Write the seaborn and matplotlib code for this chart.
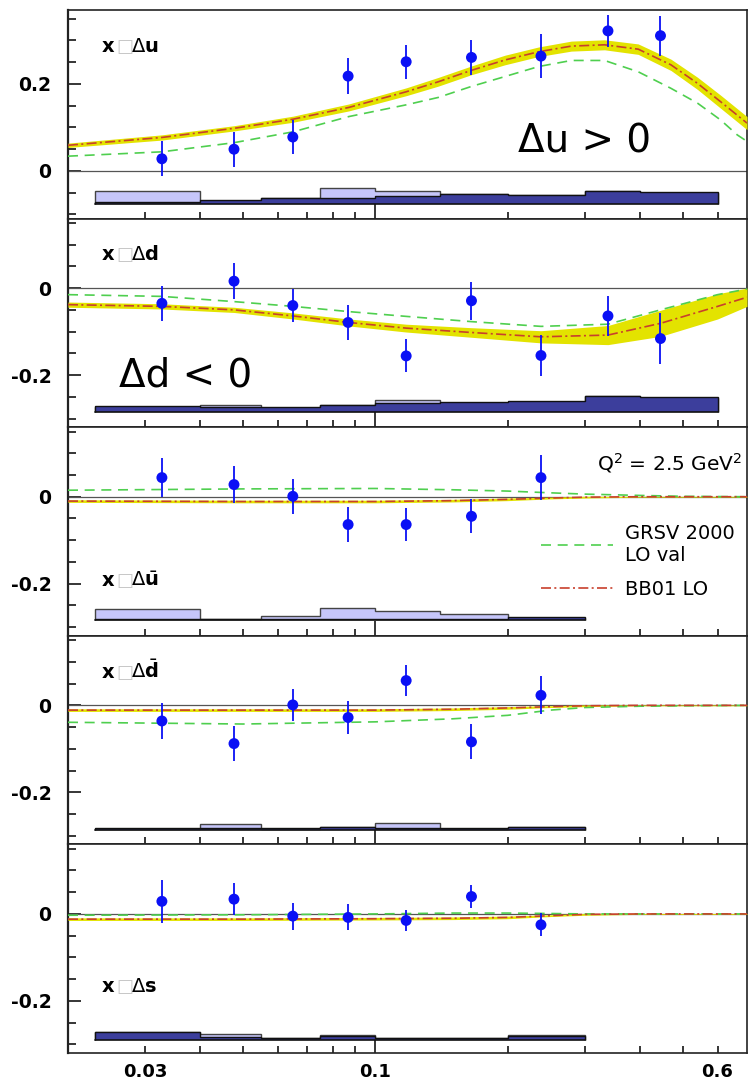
import numpy as np
import pandas as pd
import matplotlib
matplotlib.use("Agg")
import matplotlib.pyplot as plt
import seaborn as sns
from matplotlib.ticker import MultipleLocator, FixedLocator, NullLocator, FuncFormatter

# ---------------- data ----------------
x_points = [0.0327, 0.0477, 0.0649, 0.0867, 0.1175, 0.1654, 0.238, 0.338, 0.445]

du_y = [0.028, 0.050, 0.078, 0.218, 0.251, 0.261, 0.264, 0.322, 0.311]
du_err = [0.040, 0.040, 0.040, 0.041, 0.039, 0.041, 0.050, 0.036, 0.046]
dd_y = [-0.035, 0.016, -0.040, -0.079, -0.156, -0.029, -0.155, -0.064, -0.116]
dd_err = [0.040, 0.041, 0.039, 0.041, 0.038, 0.044, 0.048, 0.045, 0.058]
ub_y = [0.044, 0.028, 0.001, -0.064, -0.064, -0.045, 0.044]
ub_err = [0.044, 0.043, 0.040, 0.040, 0.038, 0.039, 0.051]
db_y = [-0.036, -0.088, 0.001, -0.028, 0.057, -0.084, 0.023]
db_err = [0.041, 0.041, 0.037, 0.038, 0.035, 0.040, 0.044]
s_y = [0.029, 0.034, -0.005, -0.008, -0.015, 0.040, -0.025]
s_err = [0.049, 0.037, 0.031, 0.030, 0.025, 0.026, 0.026]

# BB01 LO curves (centre and half width of the error band)
bb_x_du = [0.02, 0.0327, 0.0477, 0.065, 0.087, 0.1175, 0.139, 0.165, 0.197, 0.235,
           0.279, 0.332, 0.396, 0.47, 0.54, 0.61, 0.70]
bb_du = [0.059, 0.077, 0.098, 0.119, 0.146, 0.182, 0.205, 0.231, 0.255, 0.274,
         0.287, 0.290, 0.280, 0.244, 0.2015, 0.159, 0.110]
bb_du_w = [0.005, 0.006, 0.006, 0.007, 0.008, 0.009, 0.010, 0.010, 0.011, 0.011,
           0.0115, 0.0115, 0.012, 0.013, 0.014, 0.015, 0.015]
bb_x_dd = [0.02, 0.0327, 0.0477, 0.065, 0.087, 0.1175, 0.165, 0.238, 0.338, 0.445, 0.6, 0.7]
bb_dd = [-0.038, -0.042, -0.050, -0.064, -0.079, -0.092, -0.102, -0.112, -0.108, -0.081, -0.042, -0.021]
bb_dd_w = [0.006, 0.006, 0.006, 0.007, 0.008, 0.009, 0.011, 0.014, 0.022, 0.030, 0.029, 0.021]
bb_x_sea = [0.02, 0.05, 0.1, 0.15, 0.2, 0.25, 0.3, 0.4, 0.5, 0.7]
bb_ub = [-0.010, -0.011, -0.011, -0.009, -0.006, -0.003, -0.001, 0.0, 0.0, 0.0]
bb_db = [-0.011, -0.011, -0.011, -0.009, -0.006, -0.003, -0.001, 0.0, 0.0, 0.0]
bb_s = [-0.012, -0.012, -0.011, -0.010, -0.008, -0.004, -0.001, 0.0, 0.0, 0.0]
bb_sea_w = [0.003, 0.003, 0.003, 0.003, 0.003, 0.002, 0.002, 0.001, 0.001, 0.001]

# GRSV 2000 LO val curves
gr_x_du = [0.02, 0.0327, 0.0477, 0.065, 0.087, 0.1175, 0.139, 0.165, 0.197, 0.235,
           0.279, 0.332, 0.396, 0.47, 0.54, 0.61, 0.665, 0.70]
gr_du = [0.034, 0.044, 0.065, 0.090, 0.125, 0.152, 0.169, 0.194, 0.217, 0.240,
         0.254, 0.254, 0.228, 0.190, 0.156, 0.117, 0.083, 0.068]
gr_x_dd = [0.02, 0.0327, 0.0477, 0.065, 0.087, 0.1175, 0.165, 0.238, 0.338, 0.445, 0.6, 0.7]
gr_dd = [-0.015, -0.019, -0.031, -0.042, -0.054, -0.065, -0.077, -0.088, -0.083, -0.050, -0.015, -0.002]
gr_x_sea = [0.02, 0.05, 0.1, 0.15, 0.2, 0.25, 0.3, 0.4, 0.5, 0.7]
gr_ub = [0.015, 0.018, 0.019, 0.016, 0.013, 0.009, 0.006, 0.003, 0.001, 0.0]
gr_db = [-0.039, -0.043, -0.038, -0.031, -0.023, -0.011, -0.005, -0.002, -0.001, 0.0]
gr_s = [-0.003, -0.002, 0.0, 0.002, 0.002, 0.001, 0.0, 0.0, 0.0, 0.0]

# systematic uncertainty bands (bin edges, baseline, light / dark tops)
sys_edges = [0.023, 0.04, 0.055, 0.075, 0.1, 0.14, 0.2, 0.3, 0.4, 0.6]
sys_base = [-0.0759, -0.2855, -0.2828, -0.288, -0.289]
sys_light_du = [-0.046, -0.068, -0.063, -0.0384, -0.0453, -0.0535, -0.0555, -0.047, -0.050]
sys_dark_du = [-0.0706, -0.0667, -0.0614, -0.0628, -0.0568, -0.0522, -0.0545, -0.0453, -0.0483]
sys_light_dd = [-0.2730, -0.2678, -0.2750, -0.2700, -0.2570, -0.2640, -0.2615, -0.2490, -0.2530]
sys_dark_dd = [-0.2717, -0.2731, -0.2740, -0.2685, -0.2648, -0.2625, -0.2602, -0.2471, -0.2510]
sys_light_ub = [-0.2582, -0.2810, -0.2736, -0.2552, -0.2628, -0.2697, -0.2790]
sys_dark_ub = [-0.2810, -0.2815, -0.2810, -0.2810, -0.2810, -0.2810, -0.2766]
sys_light_db = [-0.2840, -0.2729, -0.2840, -0.2800, -0.2697, -0.2840, -0.2800]
sys_dark_db = [-0.2812, -0.2820, -0.2828, -0.2789, -0.2820, -0.2828, -0.2789]
sys_light_s = [-0.2710, -0.2753, -0.2850, -0.2793, -0.2850, -0.2850, -0.2793]
sys_dark_s = [-0.2720, -0.2840, -0.2846, -0.2800, -0.2846, -0.2846, -0.2800]

x_tick_vals = [0.03, 0.04, 0.05, 0.06, 0.07, 0.08, 0.09, 0.1, 0.2, 0.3, 0.4, 0.5, 0.6]
x_tick_labels = ["0.03", "", "", "", "", "", "", "0.1", "", "", "", "", "0.6"]

panel_labels = [r"$\Delta\mathbf{u}$", r"$\Delta\mathbf{d}$", r"$\Delta\bar{\mathbf{u}}$",
                r"$\Delta\bar{\mathbf{d}}$", r"$\Delta\mathbf{s}$"]

# ---------------- style ----------------
sns.set_style("ticks")
plt.rcParams["font.family"] = ["DejaVu Sans"]
plt.rcParams["axes.unicode_minus"] = False
plt.rcParams["text.color"] = "black"
plt.rcParams["xtick.color"] = "black"
plt.rcParams["ytick.color"] = "black"
plt.rcParams["xtick.labelcolor"] = "black"
plt.rcParams["ytick.labelcolor"] = "black"

BLUE = "#0a10f5"
YELLOW = "#e3e300"
RED = "#c8402c"
GREEN = "#4fcf4f"
LIGHT = "#c6c6fa"
DARK = "#3c3e9c"

panels = [
    dict(y=du_y, e=du_err, bbx=bb_x_du, bb=bb_du, bbw=bb_du_w, grx=gr_x_du, gr=gr_du,
         sl=sys_light_du, sd=sys_dark_du, ylim=(-0.1095, 0.370), lab_y=0.797),
    dict(y=dd_y, e=dd_err, bbx=bb_x_dd, bb=bb_dd, bbw=bb_dd_w, grx=gr_x_dd, gr=gr_dd,
         sl=sys_light_dd, sd=sys_dark_dd, ylim=(-0.32, 0.16), lab_y=0.800),
    dict(y=ub_y, e=ub_err, bbx=bb_x_sea, bb=bb_ub, bbw=bb_sea_w, grx=gr_x_sea, gr=gr_ub,
         sl=sys_light_ub, sd=sys_dark_ub, ylim=(-0.32, 0.16), lab_y=0.239),
    dict(y=db_y, e=db_err, bbx=bb_x_sea, bb=bb_db, bbw=bb_sea_w, grx=gr_x_sea, gr=gr_db,
         sl=sys_light_db, sd=sys_dark_db, ylim=(-0.32, 0.16), lab_y=0.799),
    dict(y=s_y, e=s_err, bbx=bb_x_sea, bb=bb_s, bbw=bb_sea_w, grx=gr_x_sea, gr=gr_s,
         sl=sys_light_s, sd=sys_dark_s, ylim=(-0.32, 0.16), lab_y=0.294),
]

W, H = 748, 1087
fig = plt.figure(figsize=(W / 100, H / 100), dpi=100)
left_px, right_px = 68, 747
top0, ph = 10, 208.6

yfmt = FuncFormatter(lambda v, p: "0" if abs(v) < 1e-9 else f"{v:.1f}")

axes = []
for i, P in enumerate(panels):
    top = top0 + i * ph
    ax = fig.add_axes([left_px / W, 1 - (top + ph) / H, (right_px - left_px) / W, ph / H])
    axes.append(ax)
    ax.set_xscale("log")
    ax.set_xlim(0.02, 0.70)
    ax.set_ylim(*P["ylim"])

    n = len(P["y"])
    xs = x_points[:n]

    # zero line
    ax.axhline(0, color="#555555", lw=0.9, zorder=1)

    # systematic bands
    ne = len(P["sl"]) + 1
    edges = sys_edges[:ne]
    base = sys_base[i]
    ax.stairs(P["sl"], edges, baseline=base, fill=True, color=LIGHT, zorder=2)
    ax.stairs(P["sl"], edges, baseline=base, fill=False, color="#444444", lw=1.0, zorder=2.1)
    ax.stairs(P["sd"], edges, baseline=base, fill=True, color=DARK, zorder=2.2)
    ax.stairs(P["sd"], edges, baseline=base, fill=False, color="#111111", lw=1.0, zorder=2.3)
    ax.plot([edges[0], edges[-1]], [base, base], color="#111111", lw=1.2, zorder=2.4)

    # BB01 band and curve
    bbx = np.array(P["bbx"])
    bb = np.array(P["bb"])
    bbw = np.array(P["bbw"])
    ax.fill_between(bbx, bb - bbw, bb + bbw, color=YELLOW, lw=0, zorder=3)
    sns.lineplot(x=bbx, y=bb, ax=ax, color=RED, lw=1.2, dashes=False, estimator=None,
                 sort=False, zorder=3.5, label="BB01 LO" if i == 2 else None, legend=False)
    ax.lines[-1].set_dashes((6, 2, 1.2, 2))
    # GRSV curve
    sns.lineplot(x=P["grx"], y=P["gr"], ax=ax, color=GREEN, lw=1.2, estimator=None,
                 sort=False, zorder=3.4, label="GRSV 2000\nLO val" if i == 2 else None, legend=False)
    ax.lines[-1].set_dashes((6, 4))

    # data points
    ax.errorbar(xs, P["y"], yerr=P["e"], fmt="none", ecolor=BLUE, elinewidth=1.3,
                capsize=0, zorder=4)
    sns.scatterplot(x=xs, y=P["y"], ax=ax, color=BLUE, s=62, edgecolor="none",
                    linewidth=0, zorder=5)

    # ticks
    ax.yaxis.set_major_locator(MultipleLocator(0.2))
    ax.yaxis.set_minor_locator(MultipleLocator(0.05))
    ax.yaxis.set_major_formatter(yfmt)
    ax.xaxis.set_major_locator(FixedLocator(x_tick_vals))
    ax.xaxis.set_minor_locator(NullLocator())
    if i == len(panels) - 1:
        ax.set_xticklabels(x_tick_labels)
    else:
        ax.set_xticklabels([""] * len(x_tick_vals))
    ax.tick_params(axis="y", which="major", direction="in", length=9.5, width=1.1,
                   pad=12, labelsize=13.5, right=False, colors="black")
    ax.tick_params(axis="y", which="minor", direction="in", length=5.5, width=1.1,
                   right=False, colors="black")
    ax.tick_params(axis="x", which="major", direction="in", length=5, width=1.1,
                   pad=7.5, labelsize=13, top=False, colors="black")
    for t in ax.get_yticklabels() + ax.get_xticklabels():
        t.set_fontweight("bold")
    ticks = ax.xaxis.get_major_ticks()
    ticks[x_tick_vals.index(0.1)].tick1line.set_markersize(10.5)

    for sp in ax.spines.values():
        sp.set_visible(True)
        sp.set_linewidth(1.2)
        sp.set_color("#222222")
    ax.spines["left"].set_linewidth(1.6)
    ax.set_xlabel("")
    ax.set_ylabel("")

    # panel label  x [] Delta q
    ax.text(0.050, P["lab_y"], "x", transform=ax.transAxes, fontsize=14,
            fontweight="bold", ha="left", va="baseline", zorder=6)
    ax.text(0.071, P["lab_y"], "\u25a1", transform=ax.transAxes, fontsize=13,
            color="#c8c8c8", ha="left", va="baseline", zorder=6)
    ax.text(0.093, P["lab_y"], panel_labels[i], transform=ax.transAxes, fontsize=14,
            ha="left", va="baseline", zorder=6)

# big annotations
axes[0].text(0.663, 0.3145, "\u0394u > 0", transform=axes[0].transAxes, fontsize=28,
             fontweight="normal", ha="left", va="baseline", zorder=6)
axes[1].text(0.075, 0.193, "\u0394d < 0", transform=axes[1].transAxes, fontsize=28,
             fontweight="normal", ha="left", va="baseline", zorder=6)

# Q^2 label and legend in the third panel
axes[2].text(0.992, 0.828, r"Q$^{2}$ = 2.5 GeV$^{2}$", transform=axes[2].transAxes,
             fontsize=14.5, fontweight="normal", ha="right", va="center", zorder=6)
h, l = axes[2].get_legend_handles_labels()
order = [l.index("GRSV 2000\nLO val"), l.index("BB01 LO")]
leg = axes[2].legend([h[k] for k in order], [l[k] for k in order],
                     loc="upper left", bbox_to_anchor=(0.697, 0.536), frameon=False,
                     borderpad=0, borderaxespad=0, handlelength=3.7, handletextpad=0.62,
                     labelspacing=0.75, prop={"size": 14, "weight": "normal"})

fig.savefig("out.png", dpi=100)
